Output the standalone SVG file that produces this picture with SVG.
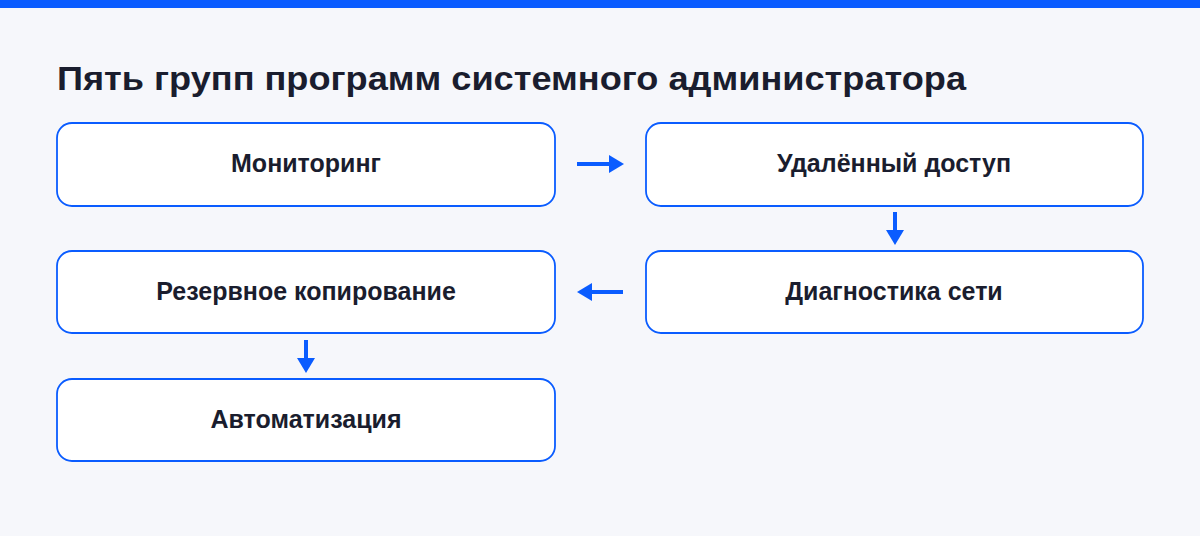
<svg xmlns="http://www.w3.org/2000/svg" width="1200" height="536" viewBox="0 0 1200 536">
<style>
.box{fill:#fff;stroke:#0a5cff;stroke-width:1.8}
.lbl{font-family:"Liberation Sans",Arial,sans-serif;font-weight:700;font-size:25px;fill:#1a1d2e;text-anchor:middle;dominant-baseline:central}
.ln{stroke:#0a5cff;stroke-width:4;fill:none}
.hd{fill:#0a5cff}
</style>
<rect width="1200" height="536" fill="#f6f7fb"/>
<rect width="1200" height="8" fill="#0a5cff"/>
<text x="57" y="78" font-family="'Liberation Sans',Arial,sans-serif" font-weight="700" font-size="34" fill="#1a1d2e" dominant-baseline="central" textLength="909" lengthAdjust="spacingAndGlyphs">Пять групп программ системного администратора</text>
<g id="n1"><rect class="box" x="57" y="123" width="498" height="83" rx="15"/><text class="lbl" x="306" y="163">Мониторинг</text></g>
<g id="n2"><rect class="box" x="646" y="123" width="497" height="83" rx="15"/><text class="lbl" x="894" y="163">Удалённый доступ</text></g>
<g id="n3"><rect class="box" x="646" y="251" width="497" height="82" rx="15"/><text class="lbl" x="894" y="291">Диагностика сети</text></g>
<g id="n4"><rect class="box" x="57" y="251" width="498" height="82" rx="15"/><text class="lbl" x="306" y="291">Резервное копирование</text></g>
<g id="n5"><rect class="box" x="57" y="379" width="498" height="82" rx="15"/><text class="lbl" x="306" y="419">Автоматизация</text></g>
<g id="connectors">
<line class="ln" x1="577" y1="164" x2="610" y2="164"/><polygon class="hd" points="609,155 624,164 609,173"/>
<line class="ln" x1="895" y1="212" x2="895" y2="231"/><polygon class="hd" points="886,230 904,230 895,245"/>
<line class="ln" x1="623" y1="292" x2="591" y2="292"/><polygon class="hd" points="592,283 577,292 592,301"/>
<line class="ln" x1="306" y1="340" x2="306" y2="359"/><polygon class="hd" points="297,358 315,358 306,373"/>
</g>
</svg>
